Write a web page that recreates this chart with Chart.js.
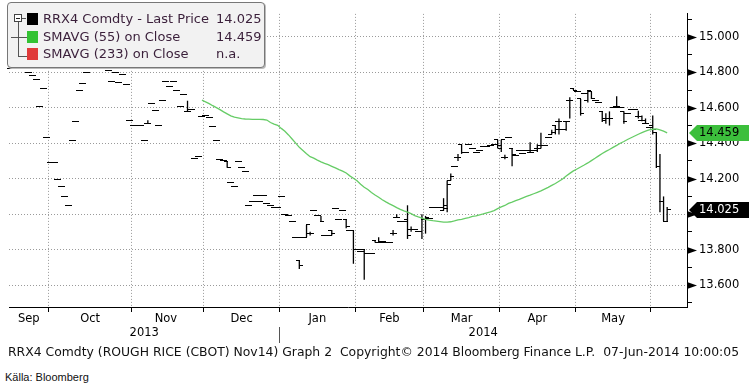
<!DOCTYPE html>
<html>
<head>
<meta charset="utf-8">
<script src="https://cdn.jsdelivr.net/npm/chart.js@4.4.1/dist/chart.umd.min.js"></script>
<style>
  html, body { margin: 0; padding: 0; background: #fff; }
  #wrap { position: relative; width: 749px; height: 388px; overflow: hidden; font-family: "DejaVu Sans", sans-serif; }
  #chart { position: absolute; left: 0; top: 0; }
  .legend { position: absolute; left: 7px; top: 2px; width: 258px; height: 66px; box-sizing: border-box;
            background: #f2f2f2; border: 1px solid #777; border-radius: 4px; box-shadow: 1px 1px 0 #bbb;
            font-size: 13px; color: #3a1f3a; }
  .legend div { position: absolute; }
  .sw { left: 19px; width: 11px; height: 12px; }
  .lt { left: 35px; line-height: 14px; white-space: pre; }
  .lv { left: 208px; line-height: 14px; }
  .tree { background: #555; }
  .tbox { left: 6px; top: 11px; width: 6px; height: 6px; border: 1px solid #444; background: #fff; }
  .tbox::after { content: ""; position: absolute; left: 1px; top: 3px; width: 4px; height: 1px; background: #222; }
  .footer { position: absolute; left: 8px; top: 345px; line-height: 14px; font-size: 12.4px; color: #111; white-space: pre; }
  .source { position: absolute; left: 5px; top: 371px; font-family: "Liberation Sans Narrow", "Arial Narrow", sans-serif; font-size: 11px; color: #111; }
</style>
</head>
<body>
<div id="wrap">
  <canvas id="chart" width="749" height="345"></canvas>
  <div class="legend">
    <div class="tree" style="left:10px;top:18px;width:1px;height:35px"></div>
    <div class="tree" style="left:12px;top:15px;width:6px;height:1px"></div>
    <div class="tree" style="left:3px;top:34px;width:16px;height:1px"></div>
    <div class="tree" style="left:10px;top:53px;width:9px;height:1px"></div>
    <div class="tbox"></div>
    <div class="sw" style="top:10px;background:#000"></div>
    <div class="lt" style="top:9px">RRX4 Comdty - Last Price</div>
    <div class="lv" id="lastPrice" style="top:9px"></div>
    <div class="sw" style="top:28px;background:#33c233"></div>
    <div class="lt" style="top:27px">SMAVG (55) on Close</div>
    <div class="lv" id="lastSma" style="top:27px"></div>
    <div class="sw" style="top:45px;background:#e03a3a"></div>
    <div class="lt" style="top:44px">SMAVG (233) on Close</div>
    <div class="lv" style="top:44px">n.a.</div>
  </div>
  <div class="footer">RRX4 Comdty (ROUGH RICE (CBOT) Nov14) Graph 2  Copyright© 2014 Bloomberg Finance L.P.  07-Jun-2014 10:00:05</div>
  <div class="source">Källa: Bloomberg</div>
</div>
<script>
const FONT = '"DejaVu Sans", sans-serif';

// trading calendar shown on the axis
const firstDay = "2013-09-16";
const lastDay = "2014-06-06";
const holidays = ["2013-11-28", "2013-12-25", "2014-01-01", "2014-01-20", "2014-02-17", "2014-04-18", "2014-05-26"];
const emptySlots = 5;
const monthNames = ["Jan", "Feb", "Mar", "Apr", "May", "Jun", "Jul", "Aug", "Sep", "Oct", "Nov", "Dec"];

// daily settle / last price, one per trading day
const closes = [
  14.82, 14.86, 14.90, 14.88, 14.84, 14.80, 14.784, 14.757, 14.605, 14.71,
  14.435, 14.29, 14.29, 14.195, 14.154, 14.097, 14.046, 14.414, 14.524, 14.697,
  14.735, 14.80, 14.84, 14.88, 14.92, 14.90, 14.86, 14.81, 14.746, 14.80,
  14.741, 14.79, 14.73, 14.53, 14.503, 14.503, 14.503, 14.414, 14.514, 14.627,
  14.584, 14.503, 14.643, 14.751, 14.719, 14.751, 14.697, 14.605, 14.676, 14.58,
  14.589, 14.314, 14.324, 14.551, 14.556, 14.546, 14.492, 14.416, 14.308, 14.303,
  14.262, 14.178, 14.154, 14.297, 14.262, 14.243, 14.046, 14.07, 14.103, 14.07,
  14.103, 14.06, 14.05, 14.038, 14.038, 14.10, 14.00, 13.99, 13.96, 13.87,
  13.71, 13.87, 13.94, 13.89, 14.02, 13.99, 13.96, 13.88, 13.88, 13.89,
  14.03, 13.97, 14.02, 13.93, 13.91, 13.80, 13.80, 13.79, 13.78, 13.78,
  13.78, 13.84, 13.84, 13.845, 13.84, 13.84, 13.89, 13.98, 13.96, 13.96,
  13.88, 13.915, 13.915, 13.90, 13.97, 13.98, 13.975, 14.035, 14.04, 14.04,
  14.05, 14.17, 14.21, 14.27, 14.32, 14.35, 14.35, 14.395, 14.37, 14.35,
  14.36, 14.38, 14.38, 14.39, 14.395, 14.39, 14.42, 14.32, 14.43, 14.335,
  14.33, 14.36, 14.34, 14.36, 14.35, 14.36, 14.37, 14.39, 14.39, 14.435,
  14.46, 14.48, 14.52, 14.476, 14.52, 14.64, 14.70, 14.69, 14.57, 14.68,
  14.70, 14.65, 14.64, 14.63, 14.53, 14.54, 14.54, 14.60, 14.61, 14.60,
  14.52, 14.57, 14.59, 14.59, 14.55, 14.53, 14.51, 14.49, 14.48, 14.27,
  14.07, 13.96, 14.025
];

// days that traded a range (index into closes); open null = same as close
const barDays = [38, 49, 60, 80, 82, 83, 86, 89, 93, 95, 98, 101, 102, 106, 107, 110, 111, 114, 115, 120,
  121, 122, 124, 125, 135, 136, 137, 139, 144, 146, 147, 150, 151, 152, 154, 155, 156, 158, 160, 161,
  164, 165, 166, 168, 170, 174, 175, 176, 178, 179, 180, 181, 182];
const barOpen = [null, 14.58, 14.297, 13.74, 13.87, null, 13.99, 13.91, 13.97, 13.91, 13.80, 13.85, null, 13.89, null, 13.97, null, 13.90, 13.97, 14.02,
  14.03, 14.19, 14.32, 14.395, 14.42, 14.37, null, 14.37, null, null, null, 14.45, 14.50, null, null, null, 14.71, 14.65, 14.64, 14.69,
  14.58, null, null, null, 14.58, null, null, null, 14.50, 14.46, 14.27, 14.07, 13.96];
const barHigh = [14.53, 14.64, 14.297, 13.74, 13.94, 13.90, 13.99, 13.91, 13.97, 13.91, 13.80, 13.85, 13.87, 13.91, 14.00, 14.05, 13.93, 14.00, 13.99, 14.09,
  14.19, 14.23, 14.34, 14.395, 14.42, 14.42, 14.335, 14.37, 14.405, 14.395, 14.46, 14.476, 14.50, 14.54, 14.524, 14.66, 14.71, 14.65, 14.70, 14.69,
  14.58, 14.57, 14.58, 14.665, 14.58, 14.584, 14.556, 14.54, 14.556, 14.46, 14.34, 14.10, 14.04];
const barLow = [14.514, 14.578, 14.262, 13.69, 13.87, 13.88, 13.955, 13.88, 13.92, 13.72, 13.63, 13.84, 13.84, 13.88, 13.98, 13.86, 13.90, 13.86, 13.89, 14.02,
  14.01, 14.19, 14.30, 14.34, 14.37, 14.35, 14.31, 14.27, 14.35, 14.35, 14.37, 14.45, 14.45, 14.45, 14.47, 14.54, 14.70, 14.556, 14.63, 14.65,
  14.52, 14.51, 14.50, 14.605, 14.51, 14.54, 14.524, 14.51, 14.449, 14.26, 14.01, 13.96, 13.96];

// 55 day moving average, starting at trading day 53
const smaStart = 53;
const sma = [
  14.643, 14.634, 14.624, 14.612, 14.601, 14.590, 14.577, 14.566, 14.555, 14.547,
  14.543, 14.539, 14.537, 14.536, 14.535, 14.535, 14.535, 14.534, 14.531, 14.517,
  14.508, 14.501, 14.484, 14.468, 14.447, 14.424, 14.401, 14.377, 14.359, 14.341,
  14.324, 14.316, 14.305, 14.295, 14.286, 14.279, 14.270, 14.261, 14.251, 14.243,
  14.232, 14.216, 14.203, 14.188, 14.169, 14.152, 14.139, 14.122, 14.108, 14.095,
  14.081, 14.069, 14.058, 14.048, 14.037, 14.027, 14.018, 14.011, 14.003, 13.992,
  13.984, 13.977, 13.970, 13.966, 13.963, 13.961, 13.958, 13.955, 13.955, 13.957,
  13.962, 13.968, 13.971, 13.976, 13.981, 13.987, 13.990, 13.996, 14.001, 14.007,
  14.013, 14.020, 14.031, 14.041, 14.049, 14.061, 14.068, 14.076, 14.083, 14.092,
  14.100, 14.107, 14.115, 14.123, 14.131, 14.141, 14.151, 14.162, 14.173, 14.186,
  14.198, 14.215, 14.230, 14.244, 14.255, 14.266, 14.277, 14.289, 14.302, 14.315,
  14.329, 14.342, 14.354, 14.365, 14.377, 14.388, 14.400, 14.410, 14.421, 14.431,
  14.441, 14.451, 14.460, 14.468, 14.475, 14.479, 14.481, 14.475, 14.468, 14.459
];

// build the trading day labels
const days = [];
for (let d = new Date(firstDay + "T00:00:00Z"); d <= new Date(lastDay + "T00:00:00Z"); d.setUTCDate(d.getUTCDate() + 1)) {
  const wd = d.getUTCDay();
  const key = d.toISOString().slice(0, 10);
  if (wd === 0 || wd === 6 || holidays.includes(key)) continue;
  days.push(key);
}
const labels = days.concat(Array(emptySlots).fill(""));

// month starts, month label positions, year labels
const monthStarts = [];
const monthLabelAt = {};
const yearLabelAt = {};
let yearStart = 0;
let runStart = 0;
for (let i = 1; i <= days.length; i++) {
  if (i === days.length || days[i].slice(0, 7) !== days[i - 1].slice(0, 7)) {
    if (i - runStart >= 10) monthLabelAt[Math.floor((runStart + i - 1) / 2)] = monthNames[+days[runStart].slice(5, 7) - 1];
    if (i < days.length) monthStarts.push(i);
    if (i < days.length && days[i].slice(0, 4) !== days[i - 1].slice(0, 4)) yearStart = i;
    runStart = i;
  }
}
yearLabelAt[Math.floor((yearStart - 1) / 2)] = days[0].slice(0, 4);
yearLabelAt[Math.floor((yearStart + labels.length - 1) / 2)] = days[days.length - 1].slice(0, 4);

const rangeData = labels.map((_, i) => {
  const k = barDays.indexOf(i);
  return k < 0 ? null : [barLow[k], barHigh[k]];
});
const openData = closes.map((c, i) => {
  const k = barDays.indexOf(i);
  return k >= 0 && barOpen[k] !== null ? barOpen[k] : c;
});
const smaData = labels.map((_, i) => (i >= smaStart && i - smaStart < sma.length ? sma[i - smaStart] : null));

const lastClose = closes[closes.length - 1];
const lastSma = sma[sma.length - 1];
document.getElementById("lastPrice").textContent = lastClose.toFixed(3);
document.getElementById("lastSma").textContent = lastSma.toFixed(3);

function tickImage(side) {
  const c = document.createElement("canvas");
  c.width = 7;
  c.height = 1;
  const g = c.getContext("2d");
  g.fillStyle = "#000";
  g.fillRect(side === "left" ? 0 : 3, 0, 4, 1);
  return c;
}

const isMajor = (v) => v !== undefined && Math.round(v * 10) % 2 === 0;

const priceTags = [
  { value: lastSma, fill: "#3cbf3c", color: "#000" },
  { value: lastClose, fill: "#000", color: "#fff" }
];

// crisp 1px tick images
const crisp = {
  id: "crisp",
  beforeDatasetsDraw(chart) { chart.ctx.imageSmoothingEnabled = false; },
  afterDatasetsDraw(chart) { chart.ctx.imageSmoothingEnabled = true; }
};

const axisMarks = {
  id: "axisMarks",
  afterDraw(chart) {
    const { ctx, chartArea } = chart;
    const y = chart.scales.y;
    const x0 = chartArea.right;
    ctx.save();
    ctx.fillStyle = "#000";
    y.ticks.forEach((t) => {
      if (!isMajor(t.value)) return;
      const py = Math.round(y.getPixelForValue(t.value)) + 0.5;
      ctx.beginPath();
      ctx.moveTo(x0, py - 3.5);
      ctx.lineTo(x0 + 10, py);
      ctx.lineTo(x0, py + 3.5);
      ctx.closePath();
      ctx.fill();
    });
    priceTags.forEach((tag) => {
      const py = Math.round(y.getPixelForValue(tag.value));
      ctx.fillStyle = tag.fill;
      ctx.beginPath();
      ctx.moveTo(x0 + 2, py);
      ctx.lineTo(x0 + 10, py - 8);
      ctx.lineTo(chart.width, py - 8);
      ctx.lineTo(chart.width, py + 8);
      ctx.lineTo(x0 + 10, py + 8);
      ctx.closePath();
      ctx.fill();
      ctx.fillStyle = tag.color;
      ctx.font = "11.5px " + FONT;
      ctx.textBaseline = "middle";
      ctx.textAlign = "left";
      ctx.fillText(tag.value.toFixed(3), x0 + 12, py + 0.5);
    });
    ctx.restore();
  }
};

Chart.defaults.font.family = FONT;

new Chart(document.getElementById("chart"), {
  type: "bar",
  data: {
    labels,
    datasets: [
      {
        type: "line",
        label: "SMAVG (55) on Close",
        data: smaData,
        borderColor: "#66cc66",
        borderWidth: 1.3,
        pointRadius: 0,
        tension: 0
      },
      {
        type: "line",
        label: "open",
        data: openData,
        showLine: false,
        pointStyle: tickImage("left"),
        pointRadius: 2
      },
      {
        type: "line",
        label: "close",
        data: closes,
        showLine: false,
        pointStyle: tickImage("right"),
        pointRadius: 2
      },
      {
        type: "bar",
        label: "range",
        data: rangeData,
        backgroundColor: "#000",
        barThickness: 1.3,
        inflateAmount: 0
      }
    ]
  },
  options: {
    responsive: false,
    animation: false,
    events: [],
    layout: { padding: { left: 9, top: 1, right: 0, bottom: 0 } },
    plugins: { legend: { display: false }, tooltip: { enabled: false } },
    scales: {
      x: {
        type: "category",
        offset: true,
        grid: {
          offset: true,
          color: (c) => (monthStarts.includes(c.index) ? "#9a9a9a" : "transparent"),
          tickColor: (c) => (monthStarts.includes(c.index) ? "#000" : "transparent"),
          tickLength: 5
        },
        border: { color: "#000", dash: [1, 2] },
        ticks: {
          autoSkip: false,
          maxRotation: 0,
          minRotation: 0,
          padding: 0,
          color: "#000",
          font: { size: 11.5 },
          callback: (v, i) => monthLabelAt[i] || ""
        },
        afterFit: (s) => { s.height = 20; }
      },
      x2: {
        type: "category",
        position: "bottom",
        offset: true,
        grid: {
          offset: true,
          drawOnChartArea: false,
          color: "transparent",
          tickColor: (c) => (c.index === yearStart ? "#555" : "transparent"),
          tickLength: 16
        },
        border: { display: false },
        ticks: {
          autoSkip: false,
          maxRotation: 0,
          minRotation: 0,
          padding: -17,
          color: "#000",
          font: { size: 11.5 },
          callback: (v, i) => yearLabelAt[i] || ""
        },
        afterFit: (s) => { s.height = 18; }
      },
      y: {
        position: "right",
        min: 13.476,
        max: 15.13,
        grid: {
          color: (c) => (c.tick && isMajor(c.tick.value) ? "#9a9a9a" : "transparent"),
          tickColor: (c) => (c.tick && isMajor(c.tick.value) ? "transparent" : "#000"),
          tickLength: 5
        },
        border: { color: "#000", dash: [1, 2] },
        ticks: {
          stepSize: 0.1,
          maxTicksLimit: 40,
          includeBounds: false,
          autoSkip: false,
          padding: 7,
          color: "#000",
          font: { size: 11.5 },
          callback: (v) => (isMajor(v) ? v.toFixed(3) : "")
        },
        afterFit: (s) => { s.width = 62; }
      }
    }
  },
  plugins: [crisp, axisMarks]
});
</script>
</body>
</html>
